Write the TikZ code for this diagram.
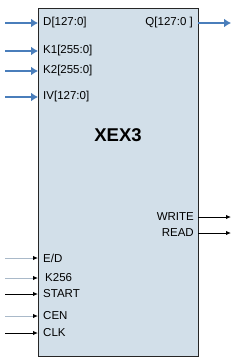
\documentclass[tikz,border=0pt]{standalone}
\usepackage{fontspec}
\setmainfont{Liberation Sans}
\usetikzlibrary{arrows, arrows.meta, positioning}
\definecolor{blockfill}{HTML}{D2DFE9}
\definecolor{busblue}{HTML}{4A7EBB}
\definecolor{siggray}{HTML}{A9B9C9}
\tikzset{>=latex}
\tikzset{font=\fontsize{11.5}{13}\selectfont}
\tikzset{
  bus/.style={-{Latex[length=7pt,width=9pt]}, busblue, line width=2pt},
  sig/.style={-{Latex[length=5pt,width=4.5pt,color=black]}, line width=1pt},
  portl/.style={anchor=west, inner sep=0pt},
  portr/.style={anchor=east, inner sep=0pt}
}

\begin{document}
\begin{tikzpicture}[x=1pt, y=-1pt]
          \useasboundingbox (0,0) rectangle (235,364);
          \node[draw=black!85, thin, fill=blockfill, minimum width=160pt, minimum height=348pt,
            anchor=north west, inner sep=0pt] (xex) at (38,8) {};
          \node[font=\fontsize{18.5}{20}\selectfont\bfseries] (title) at (118,135) {XEX3};
          % data buses in
          \foreach \y/\n/\t in {23/d/{D[127:0]}, 51/kone/{K1[255:0]}, 71/ktwo/{K2[255:0]}, 97/iv/{IV[127:0]}}{
            \coordinate (\n in) at (5,\y);
            \node[portl] (\n) at (43,\y) {\t};
            \draw[bus] (\n in) -- (\n in -| xex.west);
          }
          % data bus out
          \node[portr] (q) at (193,23) {Q[127:0 ]};
          \coordinate (q out) at (231,23);
          \draw[bus] (q out -| xex.east) -- (q out);
          % control in
          \foreach \y/\n/\t/\c/\x in {258/ed/{E/D}/siggray/43, 278/kbit/K256/siggray/45,
              294/start/START/black/43, 316/cen/CEN/siggray/43, 333/clk/CLK/black/43}{
            \coordinate (\n in) at (5,\y);
            \node[portl] (\n) at (\x,\y) {\t};
            \draw[sig, \c] (\n in) -- (\n in -| xex.west);
          }
          % control out
          \foreach \y/\n/\t in {217/write/WRITE, 233/read/READ}{
            \node[portr] (\n) at (194,\y) {\t};
            \coordinate (\n out) at (231,\y);
            \draw[sig, black] (\n out -| xex.east) -- (\n out);
          }
\end{tikzpicture}
\end{document}
